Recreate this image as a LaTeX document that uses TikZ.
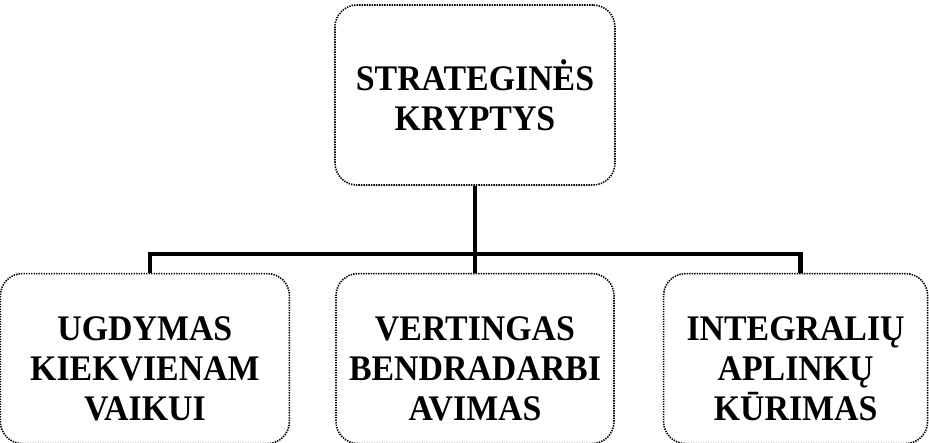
\documentclass[tikz,border=0pt]{standalone}
\usepackage{fontspec}
\setmainfont{Liberation Serif}[FakeStretch=0.94]
\usetikzlibrary{positioning}

\begin{document}
\begin{tikzpicture}[x=1pt,y=1pt,
	langelis/.style={draw, dash pattern=on 1.4pt off 1.1pt, line width=1.6pt, rounded corners=22pt,
		align=center, inner sep=0pt, font=\bfseries\fontsize{36}{40}\selectfont},
	apacia/.style={langelis, minimum height=170, text height=124pt, text depth=0pt},
	jungtis/.style={line width=4.5pt}]
	\useasboundingbox (0,0) rectangle (929,-443);
	
	% 1. viršutinis langelis
	\node[langelis, minimum width=280, minimum height=180] (kryptys) at (475,-95) {STRATEGINĖS\\KRYPTYS};
	
	% 2. apatinė eilė: vidurinis po viršutiniu, kiti šalia jo
	\node[apacia, minimum width=278, below=87pt of kryptys] (bendradarbiavimas) {VERTINGAS\\BENDRADARBI\\AVIMAS};
	\node[apacia, minimum width=289, left=45pt of bendradarbiavimas] (ugdymas) {UGDYMAS\\KIEKVIENAM\\VAIKUI};
	\node[apacia, minimum width=264, right=48pt of bendradarbiavimas] (aplinkos) {INTEGRALIŲ\\APLINKŲ\\KŪRIMAS};
	
	% 3. jungtys
	\coordinate (magistrale) at ([yshift=19pt]bendradarbiavimas.north);
	\draw[jungtis] (kryptys.south) -- (bendradarbiavimas.north);
	\draw[jungtis] ([xshift=5pt]ugdymas.north) |- (magistrale) -| ([xshift=5pt]aplinkos.north);
\end{tikzpicture}
\end{document}
